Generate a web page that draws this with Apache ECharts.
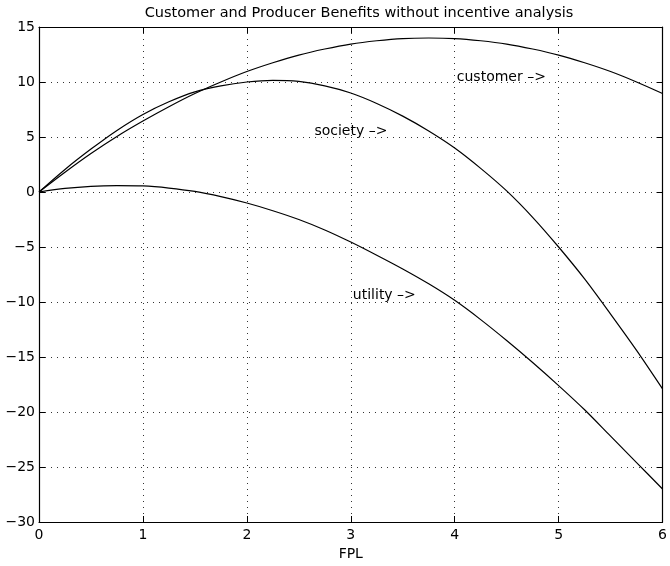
<!DOCTYPE html>
<html>
<head>
<meta charset="utf-8">
<script src="https://cdn.jsdelivr.net/npm/echarts@6/dist/echarts.min.js"></script>
<style>html,body{margin:0;padding:0;background:#fff;}#c{width:670px;height:566px;}</style>
</head>
<body>
<div id="c"></div>
<script>
var xs = [0, 0.25, 0.5, 0.75, 1, 1.25, 1.5, 1.75, 2, 2.25, 2.5, 2.75, 3, 3.25, 3.5, 3.75, 4, 4.25, 4.5, 4.75, 5, 5.25, 5.5, 5.75, 6];
var customer = [0, 1.8, 3.5, 5.05, 6.45, 7.75, 8.95, 10.0, 10.95, 11.75, 12.45, 13.0, 13.45, 13.75, 13.95, 14.0, 13.95, 13.75, 13.45, 13.0, 12.45, 11.75, 10.95, 10.0, 8.95];
var society = [0, 2.05, 3.9, 5.6, 7.05, 8.2, 9.1, 9.65, 10.0, 10.15, 10.05, 9.65, 9.0, 8.05, 6.9, 5.55, 4.0, 2.15, 0.1, -2.3, -5.0, -7.9, -11.1, -14.4, -17.9];
var utility = [0, 0.33, 0.52, 0.58, 0.55, 0.36, 0.05, -0.42, -1.0, -1.7, -2.5, -3.45, -4.55, -5.75, -7.0, -8.35, -9.85, -11.6, -13.5, -15.5, -17.6, -19.8, -22.2, -24.6, -27.0];
var labelTexts = ['customer –>', 'society –>', 'utility –>'];
var labelX = [4.02, 2.65, 3.02];
var labelY = [10.45, 5.5, -9.4];
var titleText = 'Customer and Producer Benefits without incentive analysis';
var xLabel = 'FPL';

function pairs(a, b) { return a.map(function (v, i) { return [v, b[i]]; }); }
var FONT = 'DejaVu Sans';
var gridLine = { show: true, lineStyle: { color: '#333', width: 1, type: [1, 5] } };
function lineSeries(name, ys) {
  return { name: name, type: 'line', data: pairs(xs, ys), smooth: 0.3, symbol: 'none',
    lineStyle: { color: '#000', width: 1.2 }, z: 5, silent: true };
}
function frameAxis(extra) {
  var base = {
    axisLine: { show: true, onZero: false, lineStyle: { color: '#000', width: 1.2 } },
    axisTick: { show: true, inside: true, length: 6, lineStyle: { color: '#000' } }
  };
  for (var k in extra) base[k] = extra[k];
  return base;
}
var chart = echarts.init(document.getElementById('c'), null, { renderer: 'canvas' });
chart.setOption({
  animation: false,
  backgroundColor: '#fff',
  title: { text: titleText, left: 354, textAlign: 'center', top: 1,
    textStyle: { fontFamily: FONT, fontSize: 14.5, fontWeight: 'normal', color: '#000' } },
  grid: { left: 39, right: 2, top: 27, height: 495, containLabel: false },
  xAxis: [
    frameAxis({ type: 'value', min: 0, max: 6, interval: 1, position: 'bottom',
      name: xLabel, nameLocation: 'middle', nameGap: 24,
      nameTextStyle: { fontFamily: FONT, fontSize: 14, color: '#000' },
      axisLabel: { fontFamily: FONT, fontSize: 14, color: '#000', margin: 6, showMaxLabel: true },
      splitLine: gridLine }),
    frameAxis({ type: 'value', min: 0, max: 6, interval: 1, position: 'top',
      axisLabel: { show: false }, splitLine: { show: false } })
  ],
  yAxis: [
    frameAxis({ type: 'value', min: -30, max: 15, interval: 5, position: 'left',
      axisLabel: { fontFamily: FONT, fontSize: 14, color: '#000', margin: 4,
        formatter: function (v) { return String(v).replace('-', '\u2212'); } },
      splitLine: gridLine }),
    frameAxis({ type: 'value', min: -30, max: 15, interval: 5, position: 'right',
      axisLabel: { show: false }, splitLine: { show: false } })
  ],
  series: [
    lineSeries('customer', customer),
    lineSeries('society', society),
    lineSeries('utility', utility),
    { type: 'scatter', symbolSize: 0, silent: true, z: 6,
      data: labelTexts.map(function (t, i) { return { value: [labelX[i], labelY[i]], name: t }; }),
      label: { show: true, position: 'right', distance: 0, formatter: function (p) { return p.name; },
        fontFamily: FONT, fontSize: 14, color: '#000', opacity: 1 } }
  ]
});
</script>
</body>
</html>
